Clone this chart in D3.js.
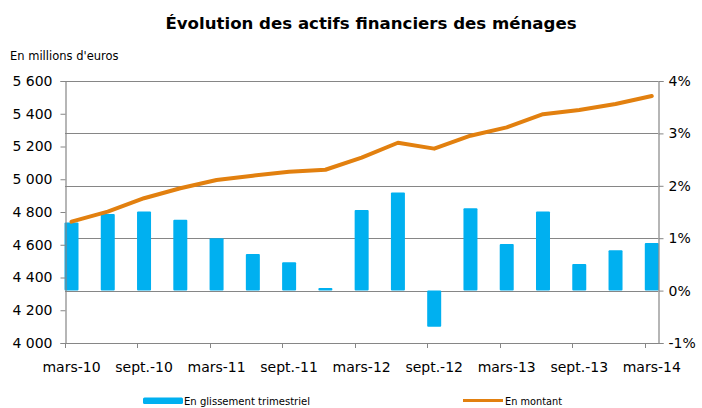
<!DOCTYPE html>
<html>
<head>
<meta charset="utf-8">
<script src="https://cdn.jsdelivr.net/npm/d3@7"></script>
<style>
  body { margin: 0; background: #fff; }
  text { font-family: "DejaVu Sans", Verdana, sans-serif; fill: #000; }
</style>
</head>
<body>
<script>
// quarters, mars-10 .. mars-14
var quarters = ["mars-10", "juin-10", "sept.-10", "déc.-10", "mars-11", "juin-11", "sept.-11", "déc.-11",
                "mars-12", "juin-12", "sept.-12", "déc.-12", "mars-13", "juin-13", "sept.-13", "déc.-13", "mars-14"];
// en glissement trimestriel (%), right axis
var glissement = [1.30, 1.46, 1.51, 1.35, 1.00, 0.70, 0.54, 0.05, 1.54, 1.87, -0.69, 1.57, 0.89, 1.51, 0.51, 0.77, 0.91];
// en montant (millions d'euros), left axis
var montant = [4741, 4802, 4884, 4945, 4995, 5022, 5046, 5058, 5132, 5223, 5187, 5266, 5317, 5397, 5423, 5460, 5508];

var leftTicks = [4000, 4200, 4400, 4600, 4800, 5000, 5200, 5400, 5600];
var rightTicks = [-1, 0, 1, 2, 3, 4];
var xLabels = ["mars-10", "sept.-10", "mars-11", "sept.-11", "mars-12", "sept.-12", "mars-13", "sept.-13", "mars-14"];

var width = 702, height = 408;
var plot = {left: 65, right: 658, top: 81, bottom: 343};

var blue = "#00b0f0", orange = "#e2800f", grid = "#868686";

var svg = d3.select("body").append("svg")
    .attr("width", width)
    .attr("height", height);

var x = d3.scalePoint().domain(quarters).range([71.5, 651.8]);
var yLeft = d3.scaleLinear().domain([4000, 5600]).range([plot.bottom, plot.top]);
var yRight = d3.scaleLinear().domain([-1, 4]).range([plot.bottom, plot.top]);

// title
svg.append("text")
    .attr("x", 371)
    .attr("y", 29)
    .attr("text-anchor", "middle")
    .style("font-size", "16.6px")
    .style("font-weight", "bold")
    .text("Évolution des actifs financiers des ménages");

svg.append("text")
    .attr("x", 10)
    .attr("y", 60)
    .style("font-size", "11.5px")
    .text("En millions d'euros");

// horizontal gridlines (right axis)
svg.append("g").selectAll("line")
    .data(rightTicks.filter(function(d) { return d >= 0; }))
    .enter().append("line")
    .attr("x1", plot.left)
    .attr("x2", plot.right)
    .attr("y1", function(d) { return Math.round(yRight(d)) + 0.5; })
    .attr("y2", function(d) { return Math.round(yRight(d)) + 0.5; })
    .style("stroke", grid)
    .style("stroke-width", 1.2);

// bars
svg.append("g").selectAll("rect")
    .data(glissement)
    .enter().append("rect")
    .attr("x", function(d, i) { return x(quarters[i]) - 7; })
    .attr("width", 14)
    .attr("y", function(d) { return yRight(Math.max(0, d)); })
    .attr("height", function(d) { return Math.abs(yRight(d) - yRight(0)); })
    .attr("rx", 1)
    .style("fill", blue);

// left axis
var axL = svg.append("g")
    .attr("transform", "translate(" + (plot.left + 0.5) + ",0)")
    .call(d3.axisLeft(yLeft).tickValues(leftTicks).tickSize(5).tickPadding(8)
        .tickFormat(function(d) { return d3.format(",")(d).replace(",", " "); }));

// right axis
var axR = svg.append("g")
    .attr("transform", "translate(" + (plot.right + 0.5) + ",0)")
    .call(d3.axisRight(yRight).tickValues(rightTicks).tickSize(5).tickPadding(5)
        .tickFormat(function(d) { return d + "%"; }));

// bottom axis
svg.append("line")
    .attr("x1", plot.left)
    .attr("x2", plot.right + 1)
    .attr("y1", plot.bottom + 0.5)
    .attr("y2", plot.bottom + 0.5)
    .style("stroke", grid)
    .style("stroke-width", 1.2);

svg.append("g").selectAll("line")
    .data(xLabels)
    .enter().append("line")
    .attr("x1", function(d) { return Math.round(x(d) - 7) + 0.5; })
    .attr("x2", function(d) { return Math.round(x(d) - 7) + 0.5; })
    .attr("y1", plot.bottom)
    .attr("y2", plot.bottom + 5)
    .style("stroke", grid);

svg.append("g").selectAll("text")
    .data(xLabels)
    .enter().append("text")
    .attr("x", function(d) { return x(d); })
    .attr("y", 372)
    .attr("text-anchor", "middle")
    .style("font-size", "14px")
    .text(function(d) { return d; });

[axL, axR].forEach(function(ax) {
    ax.select(".domain").style("stroke", grid).style("stroke-width", 1.2);
    ax.selectAll(".tick line").style("stroke", grid);
    ax.selectAll(".tick text").style("font-size", "14px")
        .style("font-family", "'DejaVu Sans', Verdana, sans-serif").style("fill", "#000");
});

// line
var line = d3.line()
    .x(function(d, i) { return x(quarters[i]); })
    .y(function(d) { return yLeft(d); });

svg.append("path")
    .datum(montant)
    .attr("d", line)
    .style("fill", "none")
    .style("stroke", orange)
    .style("stroke-width", 4)
    .style("stroke-linecap", "round")
    .style("stroke-linejoin", "round");

// legend
var legend = svg.append("g");
legend.append("rect")
    .attr("x", 143)
    .attr("y", 397.5)
    .attr("width", 40)
    .attr("height", 6.5)
    .attr("rx", 1.5)
    .style("fill", blue);
legend.append("text")
    .attr("x", 184)
    .attr("y", 405)
    .attr("textLength", 126)
    .attr("lengthAdjust", "spacingAndGlyphs")
    .style("font-size", "11px")
    .text("En glissement trimestriel");

legend.append("line")
    .attr("x1", 463)
    .attr("x2", 503)
    .attr("y1", 400.5)
    .attr("y2", 400.5)
    .style("stroke", orange)
    .style("stroke-width", 3);
legend.append("text")
    .attr("x", 505)
    .attr("y", 405)
    .attr("textLength", 57)
    .attr("lengthAdjust", "spacingAndGlyphs")
    .style("font-size", "11px")
    .text("En montant");
</script>
</body>
</html>
